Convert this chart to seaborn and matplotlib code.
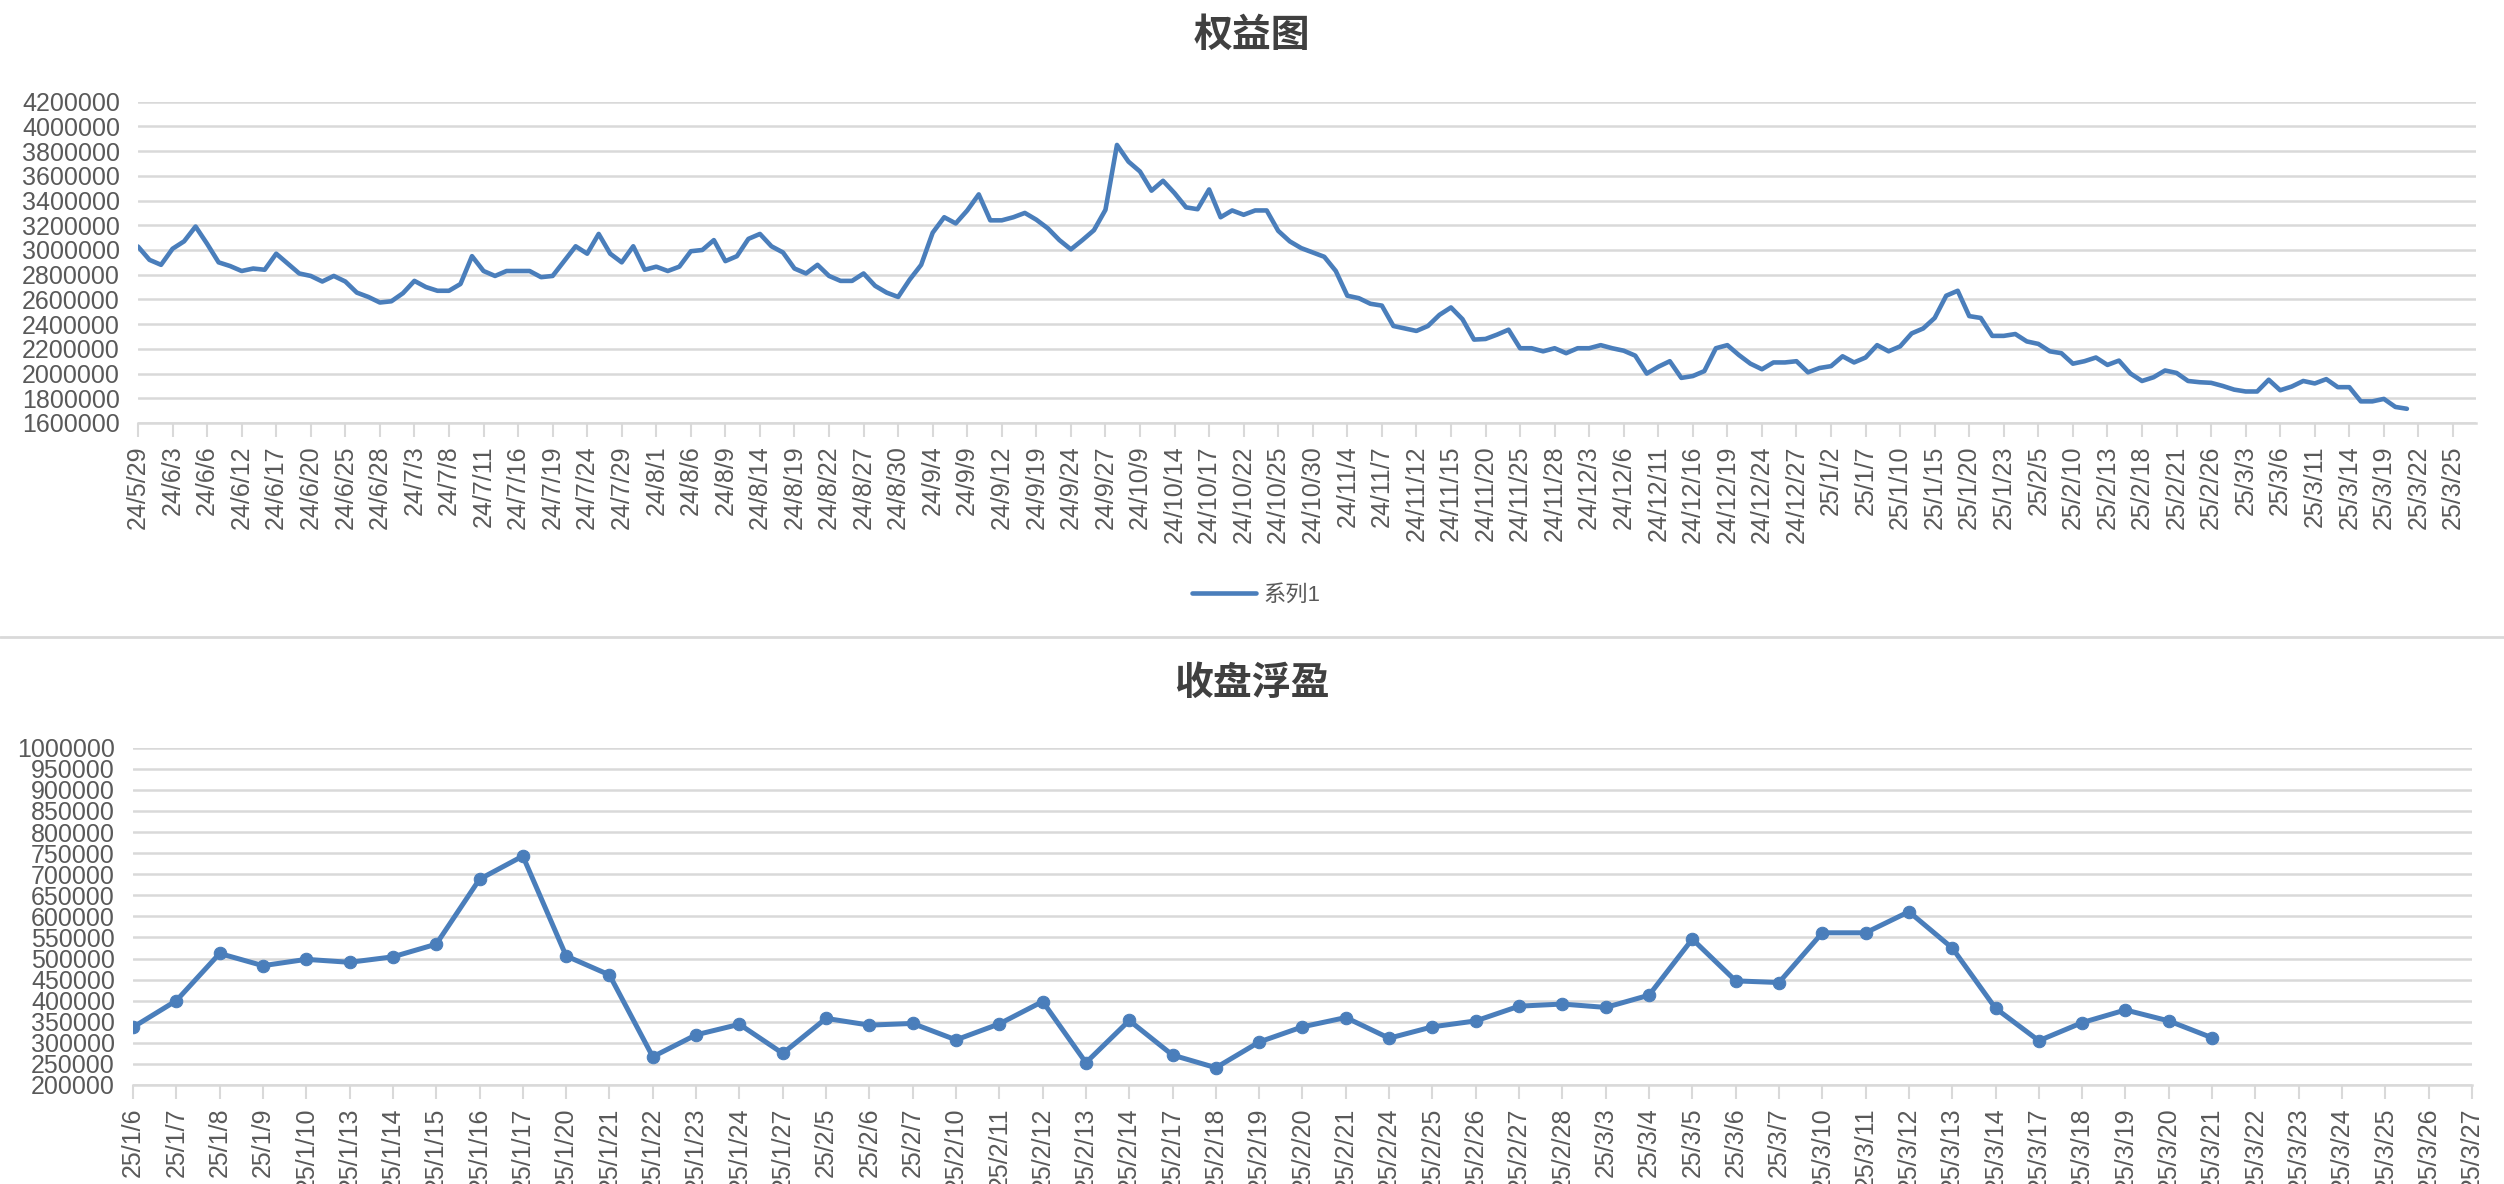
import numpy as np
import pandas as pd
import matplotlib
matplotlib.use("Agg")
import matplotlib.pyplot as plt
from matplotlib.lines import Line2D
import seaborn as sns

# Trading-day calendars (Chinese market holidays removed), then blank calendar days at the end
holidays = ["2024-06-10", "2024-09-16", "2024-09-17",
            "2024-10-01", "2024-10-02", "2024-10-03", "2024-10-04", "2024-10-07",
            "2025-01-01", "2025-01-28", "2025-01-29", "2025-01-30", "2025-01-31",
            "2025-02-03", "2025-02-04"]
top_days = list(pd.bdate_range("2024-05-29", "2025-03-21", freq="C", holidays=holidays)) + \
    list(pd.date_range("2025-03-22", "2025-03-27"))
bottom_days = list(pd.bdate_range("2025-01-06", "2025-03-21", freq="C", holidays=holidays)) + \
    list(pd.date_range("2025-03-22", "2025-03-27"))
top_labels = [f"{d.year % 100}/{d.month}/{d.day}" for d in top_days]
bottom_labels = [f"{d.year % 100}/{d.month}/{d.day}" for d in bottom_days]

# 权益 (equity), one value per trading day up to 25/3/21
equity = [3028000, 2920000, 2880000, 3010000, 3070000, 3190000, 3050000, 2900000, 2870000, 2830000,
          2850000, 2840000, 2970000, 2890000, 2810000, 2790000, 2745000, 2790000, 2745000, 2655000,
          2620000, 2575000, 2585000, 2650000, 2750000, 2700000, 2670000, 2670000, 2725000, 2950000,
          2830000, 2790000, 2830000, 2830000, 2830000, 2780000, 2790000, 2910000, 3030000, 2970000,
          3130000, 2970000, 2900000, 3030000, 2840000, 2865000, 2830000, 2865000, 2990000, 3000000,
          3080000, 2910000, 2950000, 3090000, 3130000, 3030000, 2980000, 2850000, 2810000, 2880000,
          2790000, 2750000, 2750000, 2810000, 2710000, 2655000, 2620000, 2760000, 2880000, 3140000,
          3265000, 3215000, 3320000, 3450000, 3240000, 3240000, 3265000, 3300000, 3245000, 3175000,
          3080000, 3005000, 3080000, 3160000, 3325000, 3850000, 3715000, 3635000, 3480000, 3560000,
          3460000, 3345000, 3330000, 3490000, 3265000, 3320000, 3285000, 3320000, 3320000, 3155000,
          3070000, 3015000, 2980000, 2945000, 2830000, 2630000, 2610000, 2565000, 2550000, 2385000,
          2365000, 2345000, 2385000, 2475000, 2535000, 2440000, 2275000, 2280000, 2315000, 2355000,
          2205000, 2205000, 2180000, 2205000, 2165000, 2205000, 2205000, 2230000, 2205000, 2185000,
          2145000, 2000000, 2055000, 2100000, 1965000, 1980000, 2020000, 2205000, 2230000, 2150000,
          2080000, 2035000, 2090000, 2090000, 2100000, 2010000, 2045000, 2060000, 2140000, 2090000,
          2130000, 2230000, 2180000, 2220000, 2325000, 2365000, 2450000, 2630000, 2670000, 2465000,
          2450000, 2305000, 2305000, 2320000, 2260000, 2240000, 2180000, 2165000, 2080000, 2100000,
          2130000, 2070000, 2105000, 2000000, 1940000, 1970000, 2025000, 2005000, 1940000, 1930000,
          1925000, 1900000, 1870000, 1855000, 1855000, 1950000, 1865000, 1895000, 1940000, 1920000,
          1955000, 1890000, 1890000, 1775000, 1775000, 1795000, 1730000, 1715000]

# 收盘浮盈 (closing floating profit)
float_pnl = [337000, 400000, 512000, 483000, 498000, 491000, 504000, 534000, 688000, 743000,
             506000, 461000, 267000, 319000, 344000, 275000, 358000, 342000, 346000, 307000,
             345000, 398000, 253000, 353000, 271000, 241000, 302000, 338000, 360000, 311000,
             338000, 352000, 387000, 392000, 384000, 413000, 546000, 447000, 443000, 561000,
             561000, 611000, 525000, 382000, 305000, 348000, 378000, 352000, 312000]

top_yticks = list(range(1600000, 4200001, 200000))
bottom_yticks = list(range(200000, 1000001, 50000))

sns.set_style("white")
plt.rcParams["font.family"] = ["Liberation Sans", "Noto Sans CJK SC"]

blue = "#4a7ebb"
grid_c = "#d9d9d9"
text_c = "#595959"

W, H = 2504, 1184
fig = plt.figure(figsize=(W / 100, H / 100), dpi=100)


def style_axis(ax, n_cat, tick_idx, labels, yticks):
    ax.set_xlim(0, n_cat - 1)
    ax.set_ylim(yticks[0], yticks[-1])
    ax.set_yticks(yticks)
    ax.set_yticklabels([str(v) for v in yticks])
    ax.set_xticks(tick_idx)
    ax.set_xticklabels(labels, rotation=90)
    ax.yaxis.grid(True, color=grid_c, lw=1.8)
    ax.xaxis.grid(False)
    ax.set_axisbelow(True)
    for s in ["left", "right", "top"]:
        ax.spines[s].set_visible(False)
    ax.spines["bottom"].set_color(grid_c)
    ax.spines["bottom"].set_linewidth(1.8)
    ax.tick_params(axis="x", length=10, width=1.5, color=grid_c, direction="out",
                   labelsize=18, labelcolor=text_c, pad=6, bottom=True)
    ax.tick_params(axis="y", length=0, labelsize=18, labelcolor=text_c, pad=13)
    ax.set_xlabel("")
    ax.set_ylabel("")


# top chart
ax1 = fig.add_axes([138 / W, 1 - 423 / H, (2476 - 138) / W, (423 - 101.7) / H])
sns.lineplot(x=np.arange(len(equity)), y=equity, ax=ax1, color=blue, lw=3.3, label="系列1")
top_idx = list(range(0, len(top_labels), 3))
style_axis(ax1, len(top_labels), top_idx, [top_labels[i] for i in top_idx], top_yticks)
ax1.legend(loc="center", bbox_to_anchor=(1256 / W, 1 - 595 / H), bbox_transform=fig.transFigure,
           frameon=False, fontsize=16, labelcolor=text_c, handlelength=2.9, handletextpad=0.3)

# bottom chart
ax2 = fig.add_axes([133 / W, 1 - 1085 / H, (2472 - 133) / W, (1085 - 747.7) / H])
sns.lineplot(x=np.arange(len(float_pnl)), y=float_pnl, ax=ax2, color=blue, lw=3.6,
             marker="o", markersize=9, markeredgecolor=blue, legend=False)
style_axis(ax2, len(bottom_labels), list(range(len(bottom_labels))), bottom_labels, bottom_yticks)

# titles and separator
fig.text(0.5, 1 - 35 / H, "权益图", ha="center", va="center", fontsize=28, fontweight="bold",
         color="#404040", family=["Noto Sans CJK SC"])
fig.text(0.5, 1 - 683 / H, "收盘浮盈", ha="center", va="center", fontsize=28, fontweight="bold",
         color="#404040", family=["Noto Sans CJK SC"])
fig.add_artist(Line2D([0, 1], [1 - 637 / H, 1 - 637 / H], transform=fig.transFigure,
                      color=grid_c, lw=2))

fig.savefig("out.png", dpi=100)
